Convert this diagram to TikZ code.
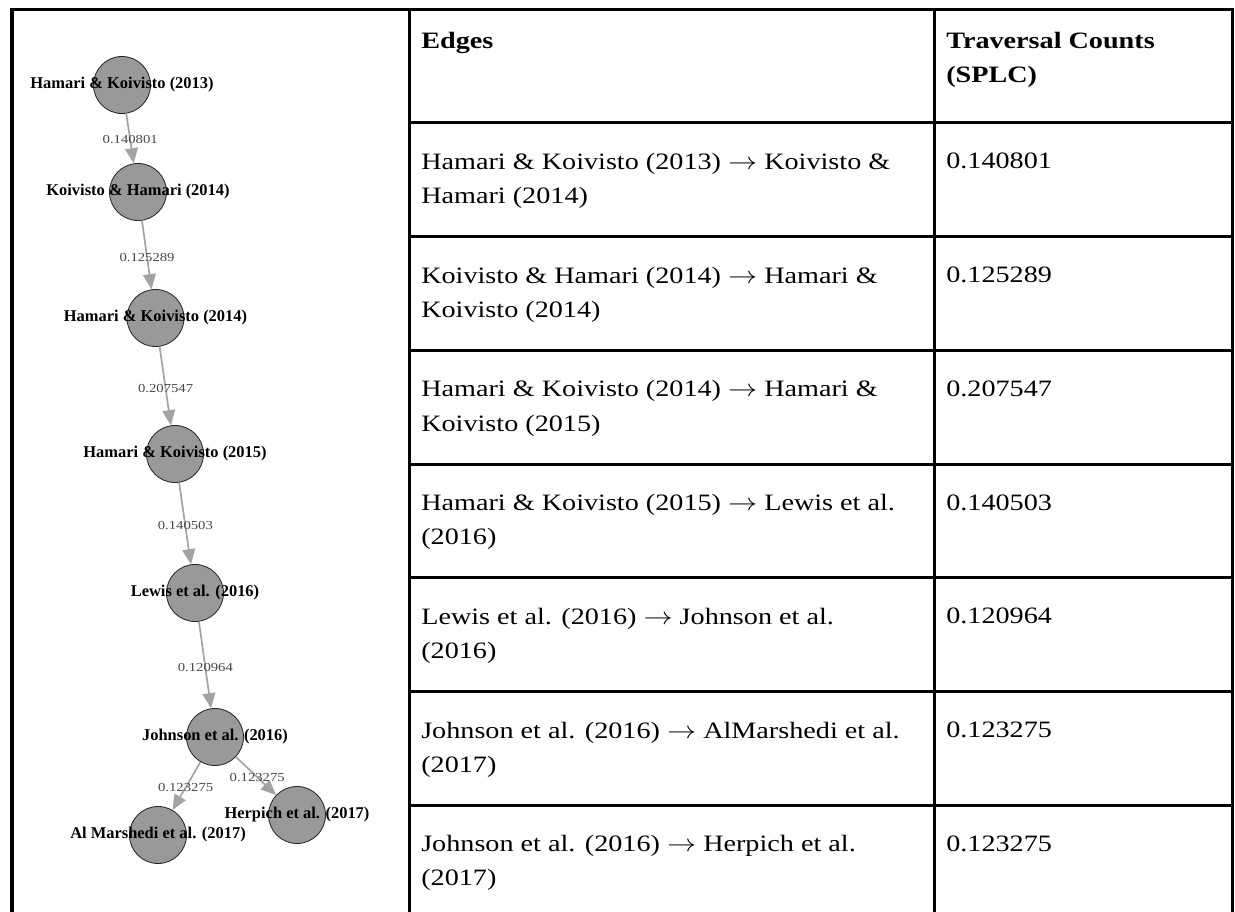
\documentclass[tikz,border=0pt]{standalone}
\usepackage{fontspec}
\setmainfont{Liberation Serif}
\usetikzlibrary{arrows.meta, positioning}
\definecolor{nodefill}{RGB}{153, 153, 153}
\definecolor{nodeline}{RGB}{40, 40, 40}
\definecolor{edgegray}{RGB}{163, 163, 163}
\definecolor{weightgray}{RGB}{70, 70, 70}
\newcommand{\widetext}[1]{\scalebox{1.2}[1]{#1}}

\begin{document}
\begin{tikzpicture}[x=0.025cm, y=-0.025cm,
    paper/.style={circle, fill=nodefill, draw=nodeline, line width=0.6pt, minimum size=1.425cm, inner sep=0pt},
    citelabel/.style={font=\fontsize{11.7}{14}\selectfont\bfseries, text=black, inner sep=0pt},
    link/.style={draw=edgegray, line width=1.2pt, -{Triangle[length=0.38cm, width=0.32cm]}},
    weight/.style={font=\fontsize{8.7}{10}\selectfont, text=weightgray, inner sep=0pt},
    cell/.style={anchor=north west, align=left, inner sep=0pt, font=\fontsize{16.7}{24.2}\selectfont},
    headcell/.style={cell, font=\fontsize{16.7}{24.2}\selectfont\bfseries},
    grid/.style={line width=0.075cm, line cap=rect}]

  \useasboundingbox (0, 0) rectangle (1235, 912);

  % Table frame
  \draw[grid] (12, 912) -- (12, 9.5) -- (1232, 9.5) -- (1232, 912);
  \draw[grid] (409, 9.5) -- (409, 912);
  \draw[grid] (934, 9.5) -- (934, 912);
  \foreach \y in {123, 236.7, 350.4, 464.1, 577.8, 691.5, 805.2}
    \draw[grid] (409, \y) -- (1232, \y);

  % Header
  \node[headcell] (hedges) at (421, 32) {\widetext{Edges}};
  \node[headcell] (hcounts) at (946, 32) {\widetext{Traversal Counts}\\\widetext{(SPLC)}};

  % Rows
  \foreach \n/\y/\a/\b/\v in {
      1/153/{Hamari \& Koivisto (2013) $\rightarrow$ Koivisto \&}/{Hamari (2014)}/0.140801,
      2/266.7/{Koivisto \& Hamari (2014) $\rightarrow$ Hamari \&}/{Koivisto (2014)}/0.125289,
      3/380.4/{Hamari \& Koivisto (2014) $\rightarrow$ Hamari \&}/{Koivisto (2015)}/0.207547,
      4/494.1/{Hamari \& Koivisto (2015) $\rightarrow$ Lewis et al.}/{(2016)}/0.140503,
      5/607.8/{Lewis et al. (2016) $\rightarrow$ Johnson et al.}/{(2016)}/0.120964,
      6/721.5/{Johnson et al. (2016) $\rightarrow$ AlMarshedi et al.}/{(2017)}/0.123275,
      7/835.2/{Johnson et al. (2016) $\rightarrow$ Herpich et al.}/{(2017)}/0.123275} {
    \node[cell] (edge\n) at (421, \y) {\widetext{\a}\\\widetext{\b}};
    \node[cell] (count\n) at (946, \y) {\widetext{\v}};
  }

  % Citation path
  \node[paper, label={[citelabel]center:{Hamari \& Koivisto (2013)}}] (hk13) at (122, 85) {};
  \node[paper, label={[citelabel]center:{Koivisto \& Hamari (2014)}}] (kh14) at (138, 192) {};
  \node[paper, label={[citelabel]center:{Hamari \& Koivisto (2014)}}] (hk14) at (155.5, 318) {};
  \node[paper, label={[citelabel]center:{Hamari \& Koivisto (2015)}}] (hk15) at (175, 454) {};
  \node[paper, label={[citelabel]center:{Lewis et al. (2016)}}] (lewis) at (195, 593) {};
  \node[paper, label={[citelabel]center:{Johnson et al. (2016)}}] (johnson) at (215, 737) {};
  \node[paper, label={[citelabel]center:{Al Marshedi et al. (2017)}}] (almarshedi) at (158, 835) {};
  \node[paper, label={[citelabel]center:{Herpich et al. (2017)}}] (herpich) at (297, 815) {};

  \draw[link] (hk13) -- node[weight, pos=0.53] {\widetext{0.140801}} (kh14);
  \draw[link] (kh14) -- node[weight, pos=0.53] {\widetext{0.125289}} (hk14);
  \draw[link] (hk14) -- node[weight, pos=0.53] {\widetext{0.207547}} (hk15);
  \draw[link] (hk15) -- node[weight, pos=0.53] {\widetext{0.140503}} (lewis);
  \draw[link] (lewis) -- node[weight, pos=0.53] {\widetext{0.120964}} (johnson);
  \draw[link] (johnson) -- node[weight, pos=0.53] {\widetext{0.123275}} (almarshedi);
  \draw[link] (johnson) -- node[weight, pos=0.53] {\widetext{0.123275}} (herpich);
\end{tikzpicture}
\end{document}
